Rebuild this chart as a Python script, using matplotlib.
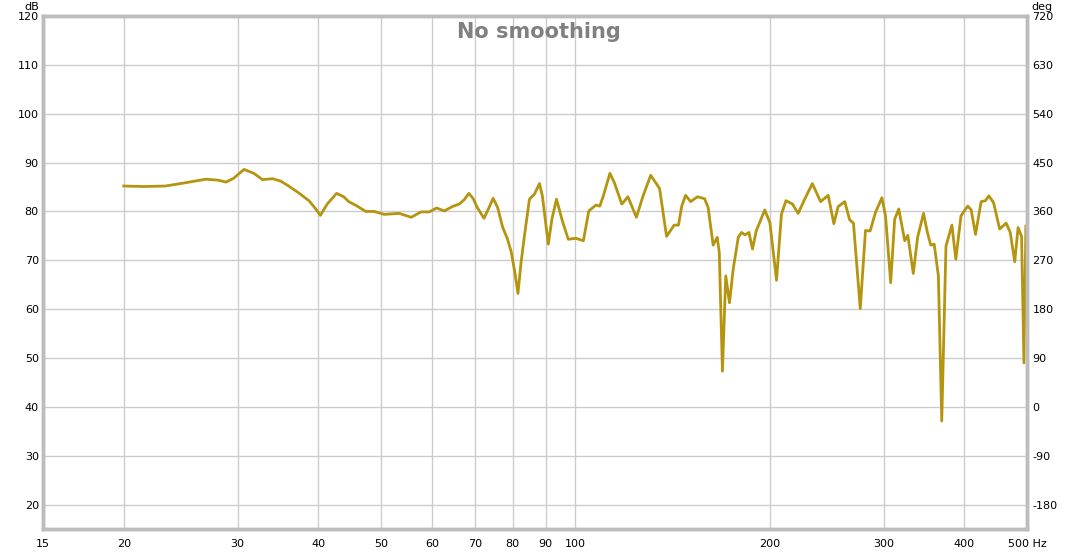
import numpy as np
import matplotlib.pyplot as plt

# Frequency response (Hz, dB)
freq = [20.0, 21.5, 23.2, 25.0, 26.8, 28.0, 28.8, 29.6, 30.7, 31.8, 32.8, 34.0,
        35.0, 36.0, 37.3, 38.7, 39.6, 40.3, 41.3, 42.7, 43.8, 44.6, 45.8,
        47.4, 48.8, 50.6, 53.4, 55.7, 57.7, 59.4, 61.0, 62.7, 64.5, 66.1, 67.3,
        68.4, 69.5, 70.5, 72.2, 73.4, 74.6, 75.8, 77.2, 78.5, 79.6, 80.6, 81.5,
        82.4, 83.4, 84.9, 86.4, 88.0, 88.9, 90.8, 92.0,
        93.5, 95.5, 97.5, 100.2, 102.9, 104.9, 107.6, 109.1, 110.5, 113.1, 114.9,
        118.0, 120.6, 124.3, 127.3, 130.8, 135.0, 138.4, 142.2, 144.4, 146.1,
        148.1, 150.8, 154.5, 158.5, 160.5, 163.4, 165.8, 167.0, 168.9, 170.9,
        173.2, 175.5, 178.7, 180.8, 183.0, 185.6, 188.0, 190.5, 196.4, 200.0,
        204.8, 208.4, 211.8, 216.8, 221.2, 226.6, 232.7, 239.6, 246.2, 251.2,
        255.1, 261.2, 265.7, 269.4, 276.0, 281.2, 285.9, 291.4, 298.1, 302.0,
        307.6, 312.0, 316.6, 323.4, 327.0, 333.4, 338.6, 345.8, 350.6, 354.8,
        359.2, 364.6, 369.0, 374.6, 382.6, 388.0, 395.2, 404.8, 409.8, 416.2,
        424.6, 431.2, 436.4, 443.8, 453.6, 464.2, 471.0, 478.6, 484.4, 490.4,
        494.6, 498.0]
spl = [85.2, 85.1, 85.2, 85.9, 86.6, 86.4, 86.0, 86.8, 88.6, 87.8, 86.5, 86.7,
       86.2, 85.2, 83.8, 82.2, 80.6, 79.2, 81.5, 83.7, 83.0, 82.0, 81.2,
       80.0, 80.0, 79.4, 79.6, 78.8, 79.9, 79.9, 80.7, 80.1, 81.0, 81.5, 82.4,
       83.7, 82.6, 80.8, 78.6, 80.6, 82.7, 80.8, 76.7, 74.4, 71.6, 67.5, 63.2,
       69.5, 75.0, 82.5, 83.5, 85.7, 83.2, 73.3, 78.5,
       82.5, 78.0, 74.3, 74.5, 74.0, 80.1, 81.3, 81.1, 83.2, 87.8, 85.9,
       81.5, 83.0, 78.8, 83.2, 87.4, 84.7, 74.9, 77.2, 77.2, 81.1,
       83.3, 82.0, 83.0, 82.6, 80.8, 73.1, 74.7, 71.6, 47.3, 66.8,
       61.3, 68.2, 74.7, 75.7, 75.2, 75.7, 72.3, 76.0, 80.3, 77.7,
       65.9, 79.4, 82.2, 81.5, 79.6, 82.6, 85.7, 82.0, 83.3, 77.5,
       81.0, 82.0, 78.3, 77.6, 60.1, 76.1, 76.0, 79.8, 82.8, 79.1,
       65.4, 78.4, 80.5, 74.0, 75.1, 67.3, 74.7, 79.6, 75.7, 73.1,
       73.3, 66.8, 37.1, 72.9, 77.2, 70.2, 79.1, 81.1, 80.3, 75.3,
       82.0, 82.2, 83.2, 81.8, 76.4, 77.6, 75.7, 69.7, 76.7, 74.9,
       49.0, 77.0]

xticks = [15, 20, 30, 40, 50, 60, 70, 80, 90, 100, 200, 300, 400, 500]
xlabels = ['15', '20', '30', '40', '50', '60', '70', '80', '90', '100',
           '200', '300', '400', '500 Hz']
db_ticks = [20, 30, 40, 50, 60, 70, 80, 90, 100, 110, 120]
deg_ticks = [-180, -90, 0, 90, 180, 270, 360, 450, 540, 630, 720]

plt.rcParams['font.family'] = ['DejaVu Sans']
plt.rcParams['axes.unicode_minus'] = False

fig = plt.figure(figsize=(10.8, 5.53), dpi=100)
ax = fig.add_axes([43 / 1080, 24 / 553, 984 / 1080, 513 / 553])

ax.plot(freq, spl, color='#b5940f', lw=2.0, solid_joinstyle='round')

ax.set_xscale('log')
ax.set_xlim(15, 500)
ax.set_ylim(15, 120)
ax.set_xticks(xticks)
ax.set_xticklabels(xlabels)
ax.minorticks_off()
ax.set_yticks(db_ticks)
ax.grid(True, color='#cccccc', lw=1)
ax.set_axisbelow(True)
ax.tick_params(axis='x', length=0, pad=7, labelsize=8)
ax.tick_params(axis='y', length=0, pad=3, labelsize=8)

# phase axis on the right
ax2 = ax.twinx()
ax2.set_ylim((15 - 40) * 9, (120 - 40) * 9)
ax2.set_yticks(deg_ticks)
ax2.tick_params(axis='y', length=0, pad=4, labelsize=8)

for a in (ax, ax2):
    for s in a.spines.values():
        s.set_color('#bdbdbd')
        s.set_linewidth(2.5)

ax.text(0.504, 0.969, 'No smoothing', transform=ax.transAxes, ha='center',
        va='center', fontsize=15, fontweight='bold', color='#808080')
fig.text(32 / 1080, 1 - 7 / 553, 'dB', ha='center', va='center', fontsize=8)
fig.text(1042 / 1080, 1 - 7 / 553, 'deg', ha='center', va='center', fontsize=8)

fig.savefig('out.png', dpi=100)
